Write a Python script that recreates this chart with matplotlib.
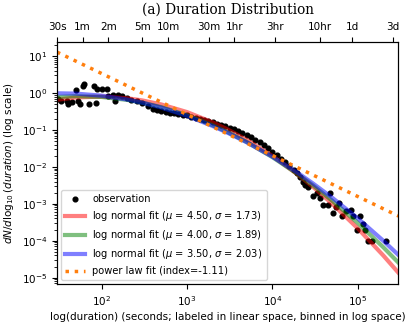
import numpy as np
import matplotlib
matplotlib.use("Agg")
import matplotlib.pyplot as plt

obs_logx = np.array([
    1.49, 1.53, 1.59, 1.605, 1.648, 1.695, 1.726, 1.746, 1.784, 1.796,
    1.855, 1.913, 1.933, 1.941, 2.00, 2.059, 2.077, 2.13, 2.156, 2.19,
    2.234, 2.293, 2.35, 2.41, 2.47, 2.546, 2.60, 2.65, 2.70, 2.75,
    2.80, 2.85, 2.90, 2.95, 3.00, 3.05, 3.10, 3.15, 3.20, 3.25,
    3.30, 3.35, 3.40, 3.45, 3.50, 3.55, 3.60, 3.65, 3.70, 3.75,
    3.80, 3.85, 3.90, 3.95, 4.00, 4.05, 4.10, 4.15, 4.20, 4.25,
    4.286, 4.325, 4.363, 4.383, 4.42, 4.481, 4.52, 4.56, 4.598, 4.656,
    4.676, 4.715, 4.75, 4.785, 4.814, 4.864, 4.923, 4.95, 4.99, 5.028,
    5.067, 5.087, 5.118, 5.165, 5.333])
obs_logy = np.array([
    -0.16, -0.23, -0.23, -0.30, -0.25, 0.09, -0.23, -0.30, 0.18, 0.245,
    -0.29, 0.18, -0.26, 0.11, 0.11, 0.11, -0.09, -0.05, -0.21, -0.05,
    -0.09, -0.14, -0.18, -0.23, -0.27, -0.365, -0.44, -0.47, -0.50, -0.51,
    -0.53, -0.55, -0.57, -0.59, -0.61, -0.64, -0.67, -0.70, -0.73, -0.76,
    -0.79, -0.83, -0.86, -0.90, -0.94, -0.98, -1.03, -1.08, -1.14, -1.20,
    -1.27, -1.34, -1.42, -1.50, -1.59, -1.68, -1.78, -1.88, -1.98, -2.08,
    -2.18, -2.28, -2.42, -2.50, -2.55, -2.80, -2.72, -2.85, -3.04, -3.04,
    -2.72, -3.25, -3.10, -2.98, -3.32, -3.20, -3.18, -3.32, -3.72, -3.32,
    -3.54, -3.72, -4.02, -4.02, -4.02])

# fitted curves
fit_x = [30, 50, 100, 200, 300, 500, 1e3, 2e3, 3e3, 5e3, 1e4, 2e4, 3e4, 5e4, 1e5, 2e5, 3e5]
fit_red = [0.654, 0.755, 0.799, 0.719, 0.628, 0.489, 0.304, 0.160, 0.1026, 0.0540,
           0.01966, 0.00610, 0.00285, 0.001012, 2.16e-4, 3.94e-5, 1.35e-5]
fit_green = [0.780, 0.819, 0.779, 0.648, 0.546, 0.412, 0.251, 0.1335, 0.0868, 0.0472,
             0.01834, 0.00625, 0.00312, 0.00122, 3.04e-4, 6.6e-5, 2.54e-5]
fit_blue = [0.979, 0.960, 0.845, 0.662, 0.544, 0.401, 0.2395, 0.1274, 0.0834, 0.0462,
            0.01876, 0.00677, 0.00353, 0.00147, 4.05e-4, 9.9e-5, 4.1e-5]
labels = ["log normal fit ($\\mu$ = 4.50, $\\sigma$ = 1.73)",
          "log normal fit ($\\mu$ = 4.00, $\\sigma$ = 1.89)",
          "log normal fit ($\\mu$ = 3.50, $\\sigma$ = 2.03)"]

power_x = [30, 3e5]
power_y = [12.8, 4.65e-4]

top_ticks = [30, 60, 120, 300, 600, 1800, 3600, 10800, 36000, 86400, 259200]
top_labels = ["30s", "1m", "2m", "5m", "10m", "30m", "1hr", "3hr", "10hr", "1d", "3d"]

fs = 7.5
fig = plt.figure(figsize=(4.07, 3.28), dpi=100)
ax = fig.add_subplot(111)
fig.subplots_adjust(left=0.140, right=0.979, bottom=0.134, top=0.873)

ax.plot(10 ** obs_logx, 10 ** obs_logy, 'ko', ms=3.4, label="observation")
for ys, c, lab in zip([fit_red, fit_green, fit_blue], ['red', 'green', 'blue'], labels):
    ax.plot(fit_x, ys, color=c, alpha=0.5, lw=3, label=lab)
ax.plot(power_x, power_y, ':', color='C1', lw=2.5, label="power law fit (index=-1.11)")

ax.set_xscale('log')
ax.set_yscale('log')
ax.set_xlim(30, 3e5)
ax.set_ylim(6.7e-6, 24.5)
ax.xaxis.set_minor_locator(matplotlib.ticker.NullLocator())
ax.tick_params(labelsize=fs)
ax.set_xlabel("log(duration) (seconds; labeled in linear space, binned in log space)",
              fontsize=fs, labelpad=3.5)
ax.set_ylabel("$dN/d\\log_{10}(duration)$ (log scale)", fontsize=fs)
ax.legend(loc='lower left', fontsize=7.1, borderaxespad=0.4)

ax2 = ax.twiny()
ax2.set_xscale('log')
ax2.set_xlim(ax.get_xlim())
ax2.set_xticks(top_ticks)
ax2.set_xticklabels(top_labels)
ax2.xaxis.set_minor_locator(matplotlib.ticker.NullLocator())
ax2.tick_params(labelsize=fs)
ax2.set_title("(a) Duration Distribution", family='DejaVu Serif', fontsize=9.8)

fig.savefig("out.png", dpi=100)
